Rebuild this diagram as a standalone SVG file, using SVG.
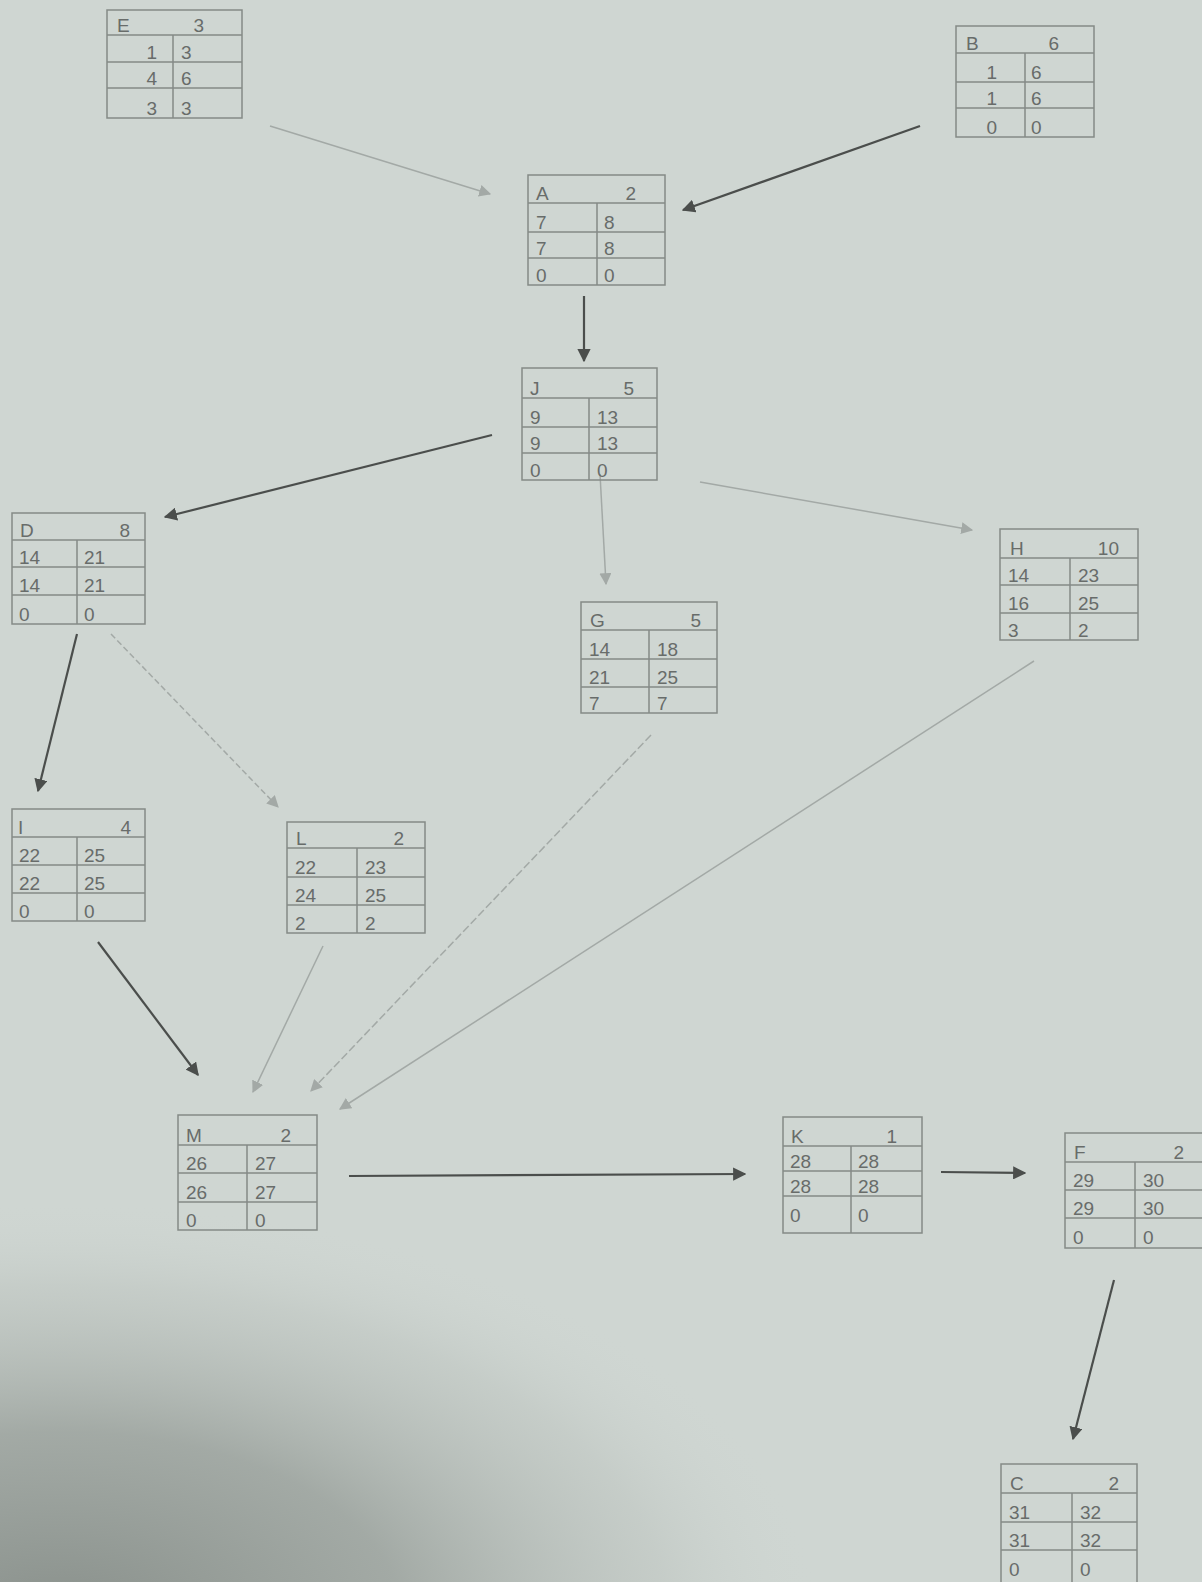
<svg xmlns="http://www.w3.org/2000/svg" width="1202" height="1582" viewBox="0 0 1202 1582">
<defs>
<style>
.box{fill:none;stroke:#858a87;stroke-width:1.5}
.t{font-family:"Liberation Sans",Arial,sans-serif;font-size:19px;fill:#686c6a}
.e{text-anchor:end}
.dk{stroke:#4b4e4c;stroke-width:2.2;fill:none}
.lt{stroke:#a3a9a6;stroke-width:1.5;fill:none}
</style>
<marker id="ad" viewBox="0 0 10 10" refX="9" refY="5" markerWidth="6" markerHeight="6" orient="auto" markerUnits="strokeWidth"><path d="M0,0 L10,5 L0,10 z" fill="#4b4e4c"/></marker>
<marker id="al" viewBox="0 0 10 10" refX="9" refY="5" markerWidth="8" markerHeight="8" orient="auto" markerUnits="strokeWidth"><path d="M0,0 L10,5 L0,10 z" fill="#a3a9a6"/></marker>
<radialGradient id="shade" cx="0" cy="1582" r="1" gradientUnits="objectBoundingBox" gradientTransform="translate(0,0)">
<stop offset="0" stop-color="#7f8782"/>
</radialGradient>
<radialGradient id="shade2" cx="60" cy="1620" r="760" gradientUnits="userSpaceOnUse" gradientTransform="translate(60,1620) scale(1,0.55) translate(-60,-1620)">
<stop offset="0" stop-color="#858c87" stop-opacity="0.95"/>
<stop offset="0.45" stop-color="#949b96" stop-opacity="0.75"/>
<stop offset="0.8" stop-color="#b4bbb6" stop-opacity="0.35"/>
<stop offset="1" stop-color="#cfd6d2" stop-opacity="0"/>
</radialGradient>
</defs>
<rect width="1202" height="1582" fill="#cfd6d2"/>
<rect width="1202" height="1582" fill="url(#shade2)"/>

<g id="connectors">
<line class="lt" x1="270" y1="126" x2="490" y2="194" marker-end="url(#al)"/>
<line class="dk" x1="920" y1="126" x2="683" y2="210" marker-end="url(#ad)"/>
<line class="dk" x1="584" y1="296" x2="584" y2="361" marker-end="url(#ad)"/>
<line class="dk" x1="492" y1="435" x2="165" y2="517" marker-end="url(#ad)"/>
<line class="lt" x1="600" y1="474" x2="606" y2="584" marker-end="url(#al)"/>
<line class="lt" x1="700" y1="482" x2="972" y2="530" marker-end="url(#al)"/>
<line class="dk" x1="77" y1="634" x2="38" y2="791" marker-end="url(#ad)"/>
<line class="lt" x1="111" y1="634" x2="278" y2="807" stroke-dasharray="6 3" marker-end="url(#al)"/>
<line class="dk" x1="98" y1="942" x2="198" y2="1075" marker-end="url(#ad)"/>
<line class="lt" x1="323" y1="946" x2="253" y2="1092" marker-end="url(#al)"/>
<line class="lt" x1="651" y1="735" x2="311" y2="1091" stroke-dasharray="8 3" marker-end="url(#al)"/>
<line class="lt" x1="1034" y1="661" x2="340" y2="1109" marker-end="url(#al)"/>
<line class="dk" x1="349" y1="1176" x2="745" y2="1174" marker-end="url(#ad)"/>
<line class="dk" x1="941" y1="1172" x2="1025" y2="1173" marker-end="url(#ad)"/>
<line class="dk" x1="1114" y1="1280" x2="1073" y2="1439" marker-end="url(#ad)"/>
</g>

<g id="node-E">
<rect class="box" x="107" y="10" width="135" height="108"/>
<path class="box" d="M107,35H242M107,62H242M107,88H242M173,35V118"/>
<text class="t" x="117" y="32">E</text><text class="t e" x="204" y="32">3</text>
<text class="t e" x="157" y="59">1</text><text class="t" x="181" y="59">3</text>
<text class="t e" x="157" y="85">4</text><text class="t" x="181" y="85">6</text>
<text class="t e" x="157" y="115">3</text><text class="t" x="181" y="115">3</text>
</g>

<g id="node-B">
<rect class="box" x="956" y="26" width="138" height="111"/>
<path class="box" d="M956,53H1094M956,82H1094M956,108H1094M1025,53V137"/>
<text class="t" x="966" y="50">B</text><text class="t e" x="1059" y="50">6</text>
<text class="t e" x="997" y="79">1</text><text class="t" x="1031" y="79">6</text>
<text class="t e" x="997" y="105">1</text><text class="t" x="1031" y="105">6</text>
<text class="t e" x="997" y="134">0</text><text class="t" x="1031" y="134">0</text>
</g>

<g id="node-A">
<rect class="box" x="528" y="175" width="137" height="110"/>
<path class="box" d="M528,203H665M528,232H665M528,258H665M597,203V285"/>
<text class="t" x="536" y="200">A</text><text class="t e" x="636" y="200">2</text>
<text class="t" x="536" y="229">7</text><text class="t" x="604" y="229">8</text>
<text class="t" x="536" y="255">7</text><text class="t" x="604" y="255">8</text>
<text class="t" x="536" y="282">0</text><text class="t" x="604" y="282">0</text>
</g>

<g id="node-J">
<rect class="box" x="522" y="368" width="135" height="112"/>
<path class="box" d="M522,398H657M522,427H657M522,453H657M589,398V480"/>
<text class="t" x="530" y="395">J</text><text class="t e" x="634" y="395">5</text>
<text class="t" x="530" y="424">9</text><text class="t" x="597" y="424">13</text>
<text class="t" x="530" y="450">9</text><text class="t" x="597" y="450">13</text>
<text class="t" x="530" y="477">0</text><text class="t" x="597" y="477">0</text>
</g>

<g id="node-D">
<rect class="box" x="12" y="513" width="133" height="111"/>
<path class="box" d="M12,540H145M12,567H145M12,595H145M77,540V624"/>
<text class="t" x="20" y="537">D</text><text class="t e" x="130" y="537">8</text>
<text class="t" x="19" y="564">14</text><text class="t" x="84" y="564">21</text>
<text class="t" x="19" y="592">14</text><text class="t" x="84" y="592">21</text>
<text class="t" x="19" y="621">0</text><text class="t" x="84" y="621">0</text>
</g>

<g id="node-G">
<rect class="box" x="581" y="602" width="136" height="111"/>
<path class="box" d="M581,630H717M581,659H717M581,687H717M649,630V713"/>
<text class="t" x="590" y="627">G</text><text class="t e" x="701" y="627">5</text>
<text class="t" x="589" y="656">14</text><text class="t" x="657" y="656">18</text>
<text class="t" x="589" y="684">21</text><text class="t" x="657" y="684">25</text>
<text class="t" x="589" y="710">7</text><text class="t" x="657" y="710">7</text>
</g>

<g id="node-H">
<rect class="box" x="1000" y="529" width="138" height="111"/>
<path class="box" d="M1000,558H1138M1000,585H1138M1000,613H1138M1070,558V640"/>
<text class="t" x="1010" y="555">H</text><text class="t e" x="1119" y="555">10</text>
<text class="t" x="1008" y="582">14</text><text class="t" x="1078" y="582">23</text>
<text class="t" x="1008" y="610">16</text><text class="t" x="1078" y="610">25</text>
<text class="t" x="1008" y="637">3</text><text class="t" x="1078" y="637">2</text>
</g>

<g id="node-I">
<rect class="box" x="12" y="809" width="133" height="112"/>
<path class="box" d="M12,837H145M12,865H145M12,893H145M77,837V921"/>
<text class="t" x="18" y="834">I</text><text class="t e" x="131" y="834">4</text>
<text class="t" x="19" y="862">22</text><text class="t" x="84" y="862">25</text>
<text class="t" x="19" y="890">22</text><text class="t" x="84" y="890">25</text>
<text class="t" x="19" y="918">0</text><text class="t" x="84" y="918">0</text>
</g>

<g id="node-L">
<rect class="box" x="287" y="822" width="138" height="111"/>
<path class="box" d="M287,848H425M287,877H425M287,905H425M357,848V933"/>
<text class="t" x="296" y="845">L</text><text class="t e" x="404" y="845">2</text>
<text class="t" x="295" y="874">22</text><text class="t" x="365" y="874">23</text>
<text class="t" x="295" y="902">24</text><text class="t" x="365" y="902">25</text>
<text class="t" x="295" y="930">2</text><text class="t" x="365" y="930">2</text>
</g>

<g id="node-M">
<rect class="box" x="178" y="1115" width="139" height="115"/>
<path class="box" d="M178,1145H317M178,1173H317M178,1202H317M247,1145V1230"/>
<text class="t" x="186" y="1142">M</text><text class="t e" x="291" y="1142">2</text>
<text class="t" x="186" y="1170">26</text><text class="t" x="255" y="1170">27</text>
<text class="t" x="186" y="1199">26</text><text class="t" x="255" y="1199">27</text>
<text class="t" x="186" y="1227">0</text><text class="t" x="255" y="1227">0</text>
</g>

<g id="node-K">
<rect class="box" x="783" y="1117" width="139" height="116"/>
<path class="box" d="M783,1146H922M783,1171H922M783,1196H922M851,1146V1233"/>
<text class="t" x="791" y="1143">K</text><text class="t e" x="897" y="1143">1</text>
<text class="t" x="790" y="1168">28</text><text class="t" x="858" y="1168">28</text>
<text class="t" x="790" y="1193">28</text><text class="t" x="858" y="1193">28</text>
<text class="t" x="790" y="1222">0</text><text class="t" x="858" y="1222">0</text>
</g>

<g id="node-F">
<rect class="box" x="1065" y="1133" width="142" height="115"/>
<path class="box" d="M1065,1162H1207M1065,1190H1207M1065,1218H1207M1135,1162V1248"/>
<text class="t" x="1074" y="1159">F</text><text class="t e" x="1184" y="1159">2</text>
<text class="t" x="1073" y="1187">29</text><text class="t" x="1143" y="1187">30</text>
<text class="t" x="1073" y="1215">29</text><text class="t" x="1143" y="1215">30</text>
<text class="t" x="1073" y="1244">0</text><text class="t" x="1143" y="1244">0</text>
</g>

<g id="node-C">
<rect class="box" x="1001" y="1464" width="136" height="120"/>
<path class="box" d="M1001,1493H1137M1001,1522H1137M1001,1550H1137M1072,1493V1584"/>
<text class="t" x="1010" y="1490">C</text><text class="t e" x="1119" y="1490">2</text>
<text class="t" x="1009" y="1519">31</text><text class="t" x="1080" y="1519">32</text>
<text class="t" x="1009" y="1547">31</text><text class="t" x="1080" y="1547">32</text>
<text class="t" x="1009" y="1576">0</text><text class="t" x="1080" y="1576">0</text>
</g>
</svg>
